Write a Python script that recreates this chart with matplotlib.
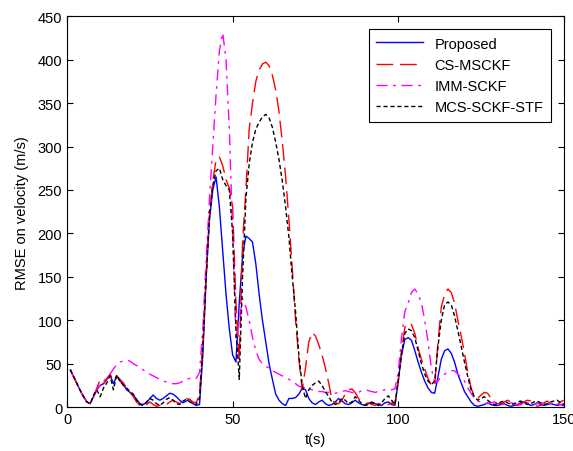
import numpy as np
import matplotlib
matplotlib.use("Agg")
import matplotlib.pyplot as plt

plt.rcParams['font.family'] = ['Liberation Sans', 'DejaVu Sans']

t = np.arange(1, 151)

proposed = [43, 35, 27, 19, 12, 6, 4, 12, 20, 25, 27, 32, 37, 27, 36, 30, 26, 20, 17, 14,
            9, 4, 3, 5, 10, 14, 10, 8, 10, 13, 16, 15, 12, 8, 5, 7, 9, 4, 2, 3,
            60, 150, 215, 250, 265, 230, 180, 130, 90, 60, 52, 120, 175, 197, 194, 190, 165, 130, 100, 75,
            50, 32, 15, 8, 4, 2, 10, 10, 11, 15, 22, 20, 10, 5, 3, 6, 8, 4, 2, 3,
            6, 10, 7, 4, 3, 5, 8, 5, 3, 2, 4, 6, 4, 3, 2, 5, 6, 3, 2, 30,
            60, 78, 80, 77, 65, 52, 40, 30, 22, 17, 16, 35, 55, 65, 67, 62, 52, 38, 28, 18,
            12, 6, 2, 1, 2, 3, 5, 3, 2, 2, 3, 4, 2, 1, 2, 3, 5, 6, 4, 2,
            3, 5, 3, 2, 3, 4, 3, 2, 3, 2]

cs_msckf = [43, 35, 27, 19, 12, 6, 4, 12, 22, 32, 27, 33, 38, 30, 36, 32, 28, 22, 17, 12,
            6, 2, 1, 3, 6, 3, 1, 2, 4, 3, 6, 8, 6, 4, 8, 10, 9, 6, 5, 15,
            70, 150, 220, 260, 285, 288, 278, 262, 252, 230, 120, 55, 190, 250, 320, 350, 375, 388, 395, 397,
            393, 382, 365, 340, 305, 265, 215, 160, 100, 55, 20, 45, 75, 86, 82, 72, 60, 45, 28, 8,
            5, 4, 8, 15, 20, 21, 17, 10, 6, 4, 5, 3, 2, 4, 3, 2, 3, 5, 3, 30,
            65, 92, 97, 95, 85, 68, 55, 44, 33, 25, 24, 75, 115, 130, 136, 132, 120, 100, 82, 62,
            40, 22, 12, 10, 14, 17, 16, 10, 6, 4, 4, 6, 8, 6, 3, 2, 3, 6, 8, 7,
            3, 1, 2, 5, 7, 4, 2, 3, 6, 8]

imm_sckf = [43, 35, 27, 19, 12, 6, 4, 12, 20, 26, 30, 34, 38, 44, 49, 52, 53, 54, 53, 50,
            48, 46, 43, 40, 38, 36, 34, 32, 30, 29, 28, 27, 27, 28, 30, 32, 33, 32, 33, 40,
            90, 170, 240, 300, 360, 410, 431, 400, 320, 200, 80, 100, 125, 115, 100, 80, 65, 55, 50, 47,
            45, 42, 40, 38, 36, 34, 32, 30, 27, 24, 23, 22, 21, 20, 19, 18, 18, 17, 17, 16,
            16, 17, 18, 19, 18, 17, 16, 17, 19, 20, 19, 18, 17, 18, 19, 20, 21, 20, 21, 40,
            80, 110, 120, 132, 136, 130, 120, 100, 75, 45, 28, 30, 36, 38, 40, 42, 42, 38, 34, 30,
            22, 16, 10, 7, 6, 5, 4, 5, 6, 5, 4, 3, 4, 5, 4, 3, 4, 5, 5, 4,
            3, 4, 5, 4, 3, 4, 5, 4, 3, 4]

mcs_sckf_stf = [43, 35, 27, 19, 12, 6, 4, 14, 20, 12, 22, 28, 36, 20, 37, 30, 25, 22, 18, 15,
                8, 3, 2, 6, 10, 8, 4, 2, 5, 9, 11, 8, 4, 3, 7, 9, 6, 4, 3, 10,
                70, 150, 220, 255, 272, 275, 262, 255, 250, 200, 90, 32, 150, 240, 280, 305, 320, 328, 334, 337,
                333, 322, 305, 285, 260, 230, 195, 150, 110, 60, 25, 10, 20, 25, 28, 30, 25, 18, 12, 6,
                3, 5, 10, 8, 4, 6, 12, 8, 4, 2, 3, 5, 4, 2, 5, 10, 13, 8, 3, 30,
                62, 85, 90, 88, 80, 65, 50, 38, 30, 26, 30, 70, 100, 118, 121, 118, 105, 88, 70, 52,
                35, 20, 12, 8, 10, 12, 8, 5, 3, 4, 6, 7, 5, 3, 4, 6, 7, 5, 3, 4,
                6, 7, 5, 3, 4, 6, 7, 8, 5, 3]

fig = plt.figure(figsize=(5.73, 4.52), dpi=100)
ax = fig.add_axes([0.117, 0.097, 0.867, 0.865])

ax.plot(t, proposed, color='#0000ff', lw=1.0, label='Proposed')
ax.plot(t, cs_msckf, color='#ff0000', lw=1.0, dashes=(12, 5), label='CS-MSCKF')
ax.plot(t, imm_sckf, color='#ff00ff', lw=1.0, dashes=(8, 4, 2, 4), label='IMM-SCKF')
ax.plot(t, mcs_sckf_stf, color='#000000', lw=1.0, dashes=(3, 2), label='MCS-SCKF-STF')

ax.set_xlim(0, 150)
ax.set_ylim(0, 450)
ax.set_xticks([0, 50, 100, 150])
ax.set_yticks(np.arange(0, 451, 50))
ax.tick_params(direction='in', top=True, right=True, labelsize=10.5, length=4)
ax.set_xlabel('t(s)', fontsize=10.5)
ax.set_ylabel('RMSE on velocity (m/s)', fontsize=10.5, labelpad=6)

leg = ax.legend(loc='upper right', fontsize=10.5, fancybox=False, edgecolor='black',
                framealpha=1, handlelength=3.2, borderaxespad=0.9, labelspacing=0.5,
                borderpad=0.5)
leg.get_frame().set_linewidth(0.8)

fig.savefig('out.png', dpi=100)
